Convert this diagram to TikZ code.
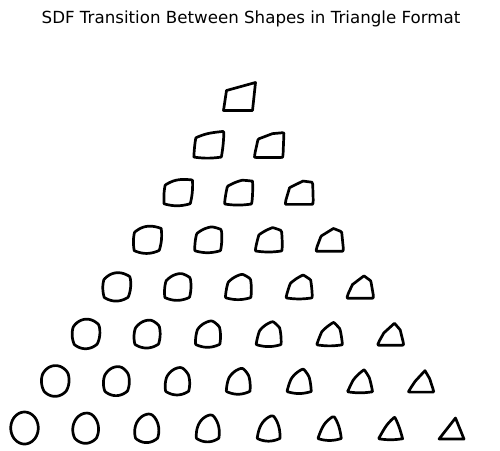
\documentclass[tikz,border=0pt]{standalone}
\usepackage{fontspec}
\setmainfont{DejaVu Sans}
\usetikzlibrary{positioning}

% ray angles (every 7.5 degrees, plus the corners of triangle and quadrilateral)
\def\rays{0,7.5,15,22.5,30,33.55,37.5,45,52.5,60,65.11,67.5,75,82.5,90,97.5,105,112.5,
  120,127.5,135,142.5,150,157.63,165,172.5,180,187.5,195,202.5,210,217.17,220.66,225,
  232.5,240,247.5,255,262.5,270,277.5,285,292.5,300,307.5,315,319.34,322.83,330,337.5,345,352.5}
% values kept per ray \k
\newcommand{\gv}[1]{(\csname #1\k\endcsname)}
\newcommand{\keep}[2]{\pgfmathsetmacro\tmp{#2}\expandafter\xdef\csname #1\k\endcsname{\tmp}}
% edge lines of triangle and quadrilateral along ray \k, at radius #1
\newcommand{\linesT}[1]{max(#1*\gv{ca}-0.69,#1*\gv{cb}-0.5288,#1*\gv{cc}-0.2071)}
\newcommand{\linesQ}[1]{max(#1*\gv{da}-0.906,#1*\gv{db}-1.1589,#1*\gv{dc}-0.5275,#1*\gv{dd}-0.8829)}
% corner term: inside the corner wedge the distance to the corner, else -9
\newcommand{\corner}[6]{(#1*#2>#3)*(#1*#4<(#5))*(sqrt(max(#1*#1-2*#1*#6,0))+9)-9}
% blended signed distance (circle of radius 1, triangle, quadrilateral)
\newcommand{\blend}[1]{\wc*(#1-1)
  +\wt*max(\linesT{#1},
     \corner{#1}{\gv{tc}}{1.1231}{\gv{ta}}{-0.91}{\gv{va}+1.3042},
     \corner{#1}{\gv{ta}}{0.91}{\gv{tb}}{-1.0122}{\gv{vb}+1.3042},
     \corner{#1}{\gv{tb}}{0.4416}{\gv{tc}}{-0.6572}{\gv{vc}+0.4747})
  +\wq*max(\linesQ{#1},
     \corner{#1}{\gv{fc}}{0.7341}{\gv{fd}}{-0.1946}{\gv{wd}+0.8172})}

\begin{document}
\begin{tikzpicture}[x=1pt,y=1pt,
    sdfline/.style={line width=2.7pt,line join=round,black}]
  \useasboundingbox (0,0) rectangle (500,450);
  \node[font=\fontsize{16.67}{20}\selectfont,anchor=base] (title) at (251,426.7)
    {SDF Transition Between Shapes in Triangle Format};
  \foreach \k in \rays{
    \keep{ca}{-sin(\k)}
    \keep{cb}{0.9045*cos(\k)+0.4265*sin(\k)}
    \keep{cc}{-0.7387*cos(\k)+0.6741*sin(\k)}
    \keep{ta}{cos(\k)}
    \keep{tb}{-0.4265*cos(\k)+0.9045*sin(\k)}
    \keep{tc}{-0.6741*cos(\k)-0.7387*sin(\k)}
    \keep{va}{-0.91*cos(\k)-0.69*sin(\k)}
    \keep{vb}{0.91*cos(\k)-0.69*sin(\k)}
    \keep{vc}{0.29*cos(\k)+0.625*sin(\k)}
    \keep{da}{-sin(\k)}
    \keep{db}{0.9923*cos(\k)-0.1236*sin(\k)}
    \keep{dc}{-0.2307*cos(\k)+0.9730*sin(\k)}
    \keep{dd}{-0.9850*cos(\k)+0.1726*sin(\k)}
    \keep{fc}{-0.9730*cos(\k)-0.2307*sin(\k)}
    \keep{fd}{-0.1726*cos(\k)-0.9850*sin(\k)}
    \keep{wd}{-0.836*cos(\k)+0.344*sin(\k)}
    \keep{rt}{min(0.69/max(\gv{ca},0.02),0.5288/max(\gv{cb},0.02),0.2071/max(\gv{cc},0.02))}
    \keep{rq}{min(0.906/max(\gv{da},0.02),1.1589/max(\gv{db},0.02),0.5275/max(\gv{dc},0.02),0.8829/max(\gv{dd},0.02))}
    \keep{st}{(\linesT{(\gv{rt}+0.01)}-\linesT{(\gv{rt}-0.01)})/0.02}
    \keep{sq}{(\linesQ{(\gv{rq}+0.01)}-\linesQ{(\gv{rq}-0.01)})/0.02}
  }
  \foreach \i in {0,...,7}{
    \foreach \j in {0,...,\i}{
      \pgfmathsetmacro\cx{238+(\j-\i/2)*61}
      \pgfmathsetmacro\cy{354-47.43*\i}
      \pgfmathsetmacro\wq{(7-\i)/7}
      \pgfmathsetmacro\wc{(\i-\j)/7}
      \pgfmathsetmacro\wt{\j/7}
      \gdef\outline{}
      \foreach \k in \rays{
        \pgfmathsetmacro\slope{\wc+\wt*\gv{st}+\wq*\gv{sq}}
        \pgfmathsetmacro\rr{(\wc+\wt*\gv{st}*\gv{rt}+\wq*\gv{sq}*\gv{rq})/\slope}
        \pgfmathsetmacro\rr{max(0.15,min(2,\rr-(\blend{\rr})/\slope))}
        \pgfmathsetmacro\rr{max(0.15,min(2,\rr-(\blend{\rr})/\slope))}
        \pgfmathsetmacro\rr{max(0.15,min(2,\rr-(\blend{\rr})/\slope))}
        \xdef\outline{\outline(\k:\rr)--}
      }
      \draw[sdfline,xshift=\cx pt,yshift=\cy pt,x=13.75pt,y=16pt] \outline cycle;
    }
  }
\end{tikzpicture}
\end{document}
